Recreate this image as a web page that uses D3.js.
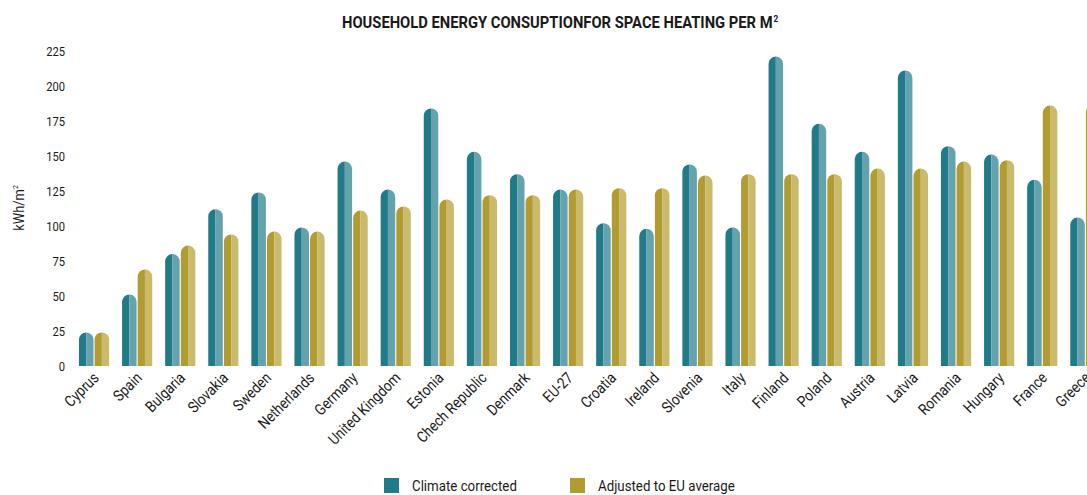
<!DOCTYPE html>
<html>
<head>
<meta charset="utf-8">
<script src="https://cdn.jsdelivr.net/npm/d3@7"></script>
<style>
  html, body { margin: 0; padding: 0; background: #fff; overflow: hidden; }
  svg { display: block; }
  text { font-family: "Roboto", "DejaVu Sans Condensed", sans-serif; fill: #1a1a1a; }
</style>
</head>
<body>
<svg id="chart" width="1087" height="495"></svg>
<script>
// Space heating energy use per m² by country
const countries = ["Cyprus", "Spain", "Bulgaria", "Slovakia", "Sweden", "Netherlands", "Germany",
  "United Kingdom", "Estonia", "Chech Republic", "Denmark", "EU-27", "Croatia", "Ireland",
  "Slovenia", "Italy", "Finland", "Poland", "Austria", "Latvia", "Romania", "Hungary", "France", "Greece"];
const climateCorrected = [24, 51, 80, 112, 124, 99, 146, 126, 184, 153, 137, 126, 102, 98,
  144, 99, 221, 173, 153, 211, 157, 151, 133, 106];
const adjustedToEU = [24, 69, 86, 94, 96, 96, 111, 114, 119, 122, 122, 126, 127, 127,
  136, 137, 137, 137, 141, 141, 146, 147, 186, 186];
const seriesNames = ["Climate corrected", "Adjusted to EU average"];
const yTicks = [0, 25, 50, 75, 100, 125, 150, 175, 200, 225];

const palette = {
  "Climate corrected": { dark: "#217a88", light: "#64a2ae" },
  "Adjusted to EU average": { dark: "#b29b30", light: "#cabb6c" }
};

const svg = d3.select("#chart");
const baseY = 366, topY = 51;
const narrow = 0.86; // horizontal squeeze that gives the condensed lettering

const y = d3.scaleLinear().domain([0, 225]).range([baseY, topY]);
const x0 = d3.scaleBand().domain(countries).range([72.5, 1106.9]).paddingInner(0.3).paddingOuter(0.15);
const x1 = d3.scaleBand().domain(seriesNames).range([0, x0.bandwidth()]).paddingInner(0.07);

const rows = countries.map((c, i) => ({ country: c, values: [
  { key: seriesNames[0], value: climateCorrected[i] },
  { key: seriesNames[1], value: adjustedToEU[i] }
]}));

// Title, squeezed horizontally to a condensed width
const title = svg.append("text")
  .attr("text-anchor", "start")
  .style("font-weight", "bold").style("font-size", "16px");
title.append("tspan").text("HOUSEHOLD ENERGY CONSUPTIONFOR SPACE HEATING PER M");
title.append("tspan").attr("dy", "-6").attr("dx", "1").style("font-size", "9px").text("2");
const titleW = title.node().getComputedTextLength();
title.attr("transform", `translate(342,28) scale(${436 / titleW},1)`);

// Y axis (labels only)
const yAxis = svg.append("g").attr("transform", "translate(65,0)")
  .call(d3.axisLeft(y).tickValues(yTicks).tickSize(0).tickPadding(0));
yAxis.select(".domain").remove();
yAxis.selectAll("text")
  .style("font-size", "13px").attr("fill", "#1a1a1a")
  .style("font-family", "Roboto, sans-serif")
  .attr("x", 0)
  .attr("transform", `scale(${narrow},1)`);

// Y axis title
const yLab = svg.append("text")
  .attr("transform", `translate(24,208) rotate(-90) scale(${narrow},1)`)
  .attr("text-anchor", "middle").style("font-size", "15px");
yLab.append("tspan").text("kWh/m");
yLab.append("tspan").attr("dy", "-6").style("font-size", "8px").text("2");

// Half-bar paths with a rounded top cap
function halfPath(xl, w, top, side) {
  const r = w / 2;
  const h = baseY - top;
  const capY = top + Math.min(r, h);
  const cx = xl + r;
  if (side === "left") {
    return `M${xl},${baseY} L${xl},${capY} A${r},${r} 0 0 1 ${cx},${top} L${cx},${baseY} Z`;
  }
  return `M${cx},${baseY} L${cx},${top} A${r},${r} 0 0 1 ${xl + w},${capY} L${xl + w},${baseY} Z`;
}

const groups = svg.append("g").selectAll("g").data(rows).join("g")
  .attr("transform", d => `translate(${x0(d.country)},0)`);

const bars = groups.selectAll("g").data(d => d.values).join("g");
bars.append("path")
  .attr("d", d => halfPath(x1(d.key), x1.bandwidth(), y(d.value), "left"))
  .attr("fill", d => palette[d.key].dark);
bars.append("path")
  .attr("d", d => halfPath(x1(d.key), x1.bandwidth(), y(d.value), "right"))
  .attr("fill", d => palette[d.key].light);

// X axis labels
const xAxis = svg.append("g").attr("transform", `translate(0,${baseY})`)
  .call(d3.axisBottom(x0).tickSize(0).tickPadding(0));
xAxis.select(".domain").remove();
xAxis.selectAll("text")
  .style("font-size", "15.5px").attr("fill", "#1a1a1a")
  .style("font-family", "Roboto, sans-serif")
  .attr("text-anchor", "end")
  .attr("transform", `translate(2,9) rotate(-45) scale(${narrow},1)`)
  .attr("dy", "0.35em").attr("y", 0).attr("x", 0);

// Legend
const legend = svg.append("g");
const legendX = [384, 570];
const legendLen = [105, 137];
seriesNames.forEach((s, i) => {
  legend.append("rect").attr("x", legendX[i]).attr("y", 478).attr("width", 15).attr("height", 15)
    .attr("fill", palette[s].dark);
  const t = legend.append("text").style("font-size", "15px").text(s);
  const w = t.node().getComputedTextLength();
  t.attr("transform", `translate(${legendX[i] + 28},491) scale(${legendLen[i] / w},1)`);
});
</script>
</body>
</html>
